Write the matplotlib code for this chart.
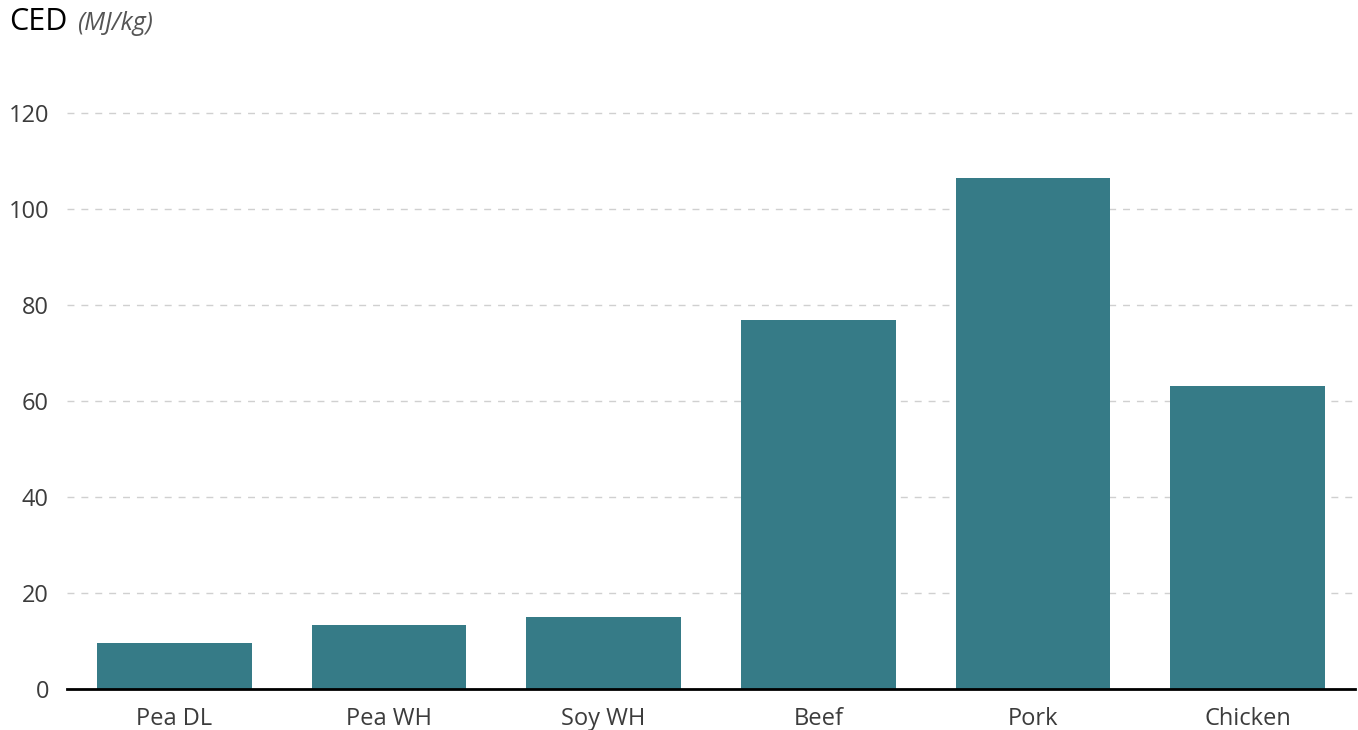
import numpy as np
import matplotlib.pyplot as plt

plt.rcParams['font.family'] = ['Open Sans', 'DejaVu Sans']

# data
categories = ['Pea DL', 'Pea WH', 'Soy WH', 'Beef', 'Pork', 'Chicken']
ced_values = [9.6, 13.3, 15.0, 76.9, 106.5, 63.1]
y_ticks = [0, 20, 40, 60, 80, 100, 120]

bar_color = '#367b87'

fig = plt.figure(figsize=(13.58, 7.30), dpi=100)
ax = fig.add_axes([67/1358, 1 - 689/730, (1355-67)/1358, (689-89)/730])

x = np.arange(len(categories))
ax.bar(x, ced_values, width=0.72, color=bar_color, zorder=3)

ax.set_xlim(-0.5, len(categories) - 0.5)
ax.set_ylim(0, 125)
ax.set_xticks(x)
ax.set_xticklabels(categories, fontsize=17, color='#3c3c3c', fontweight='medium')
ax.set_yticks(y_ticks)
ax.set_yticklabels([str(v) for v in y_ticks], fontsize=17, color='#3c3c3c',
                   fontweight='medium')
ax.tick_params(axis='both', length=0)
ax.tick_params(axis='x', pad=13)
ax.tick_params(axis='y', pad=13)

# dashed grid
ax.yaxis.grid(True, linestyle=(0, (5, 5)), color='#d0d0d0', linewidth=1, zorder=0)
for s in ['top', 'right', 'left']:
    ax.spines[s].set_visible(False)
ax.spines['bottom'].set_color('black')
ax.spines['bottom'].set_linewidth(2)
ax.spines['bottom'].set_zorder(4)

# title
fig.text(9/1358, 1 - 22/730, 'CED', fontsize=22, color='black', va='center', ha='left')
fig.text(77/1358, 1 - 24/730, '(MJ/kg)', fontsize=18, color='#555555',
         style='italic', va='center', ha='left')

fig.savefig('out.png', dpi=100)
